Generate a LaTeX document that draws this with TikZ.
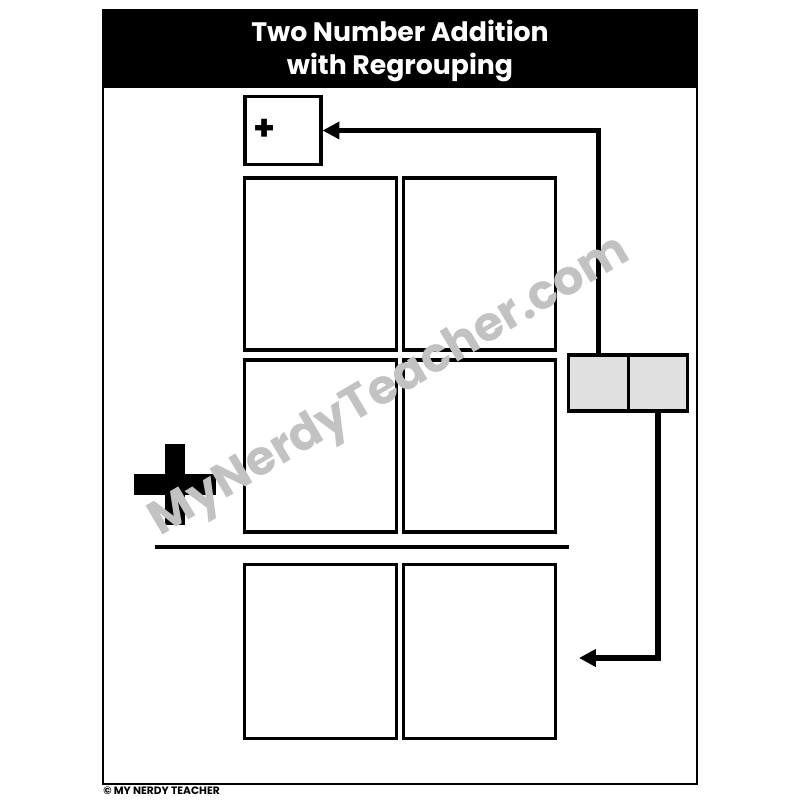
\documentclass[tikz,border=0pt]{standalone}
\usepackage{fontspec}
\setmainfont{Poppins}
\usetikzlibrary{arrows.meta}

\begin{document}
\begin{tikzpicture}[
  x=0.025cm, y=-0.025cm,
  cell/.style={draw, line width=2.2pt, inner sep=0pt,
    minimum width=3.78cm, minimum height=4.3cm},
  carrybox/.style={draw, line width=2.2pt, inner sep=0pt,
    minimum width=1.9cm, minimum height=1.72cm},
  regroup/.style={draw, line width=2.2pt, fill=black!12, inner sep=0pt,
    minimum width=1.49cm, minimum height=1.4cm},
  carry/.style={line width=4pt, -{Triangle[length=12pt,width=12pt]}},
  ]
  \useasboundingbox (0,0) rectangle (800,800);
  % Page frame and title band
  \fill[black] (103,10) rectangle (697,88);
  \draw[line width=1.6pt] (103,10) rectangle (697,784);
  \node[text=white, font={\fontsize{19pt}{24pt}\selectfont\bfseries},
    align=center] (title) at (400,51) {Two Number Addition\\with Regrouping};
  % Carry box
  \node[carrybox] (plusbox) at (283,130.5) {};
  \node[font={\fontsize{25pt}{25pt}\selectfont\bfseries}] (plussign)
    at (265,130) {+};
  % Place value cells
  \node[cell] (tensA) at (320.5,264) {};
  \node[cell] (onesA) at (479.5,264) {};
  \node[cell] (tensB) at (320.5,446) {};
  \node[cell] (onesB) at (479.5,446) {};
  \node[cell, minimum height=4.33cm] (tensC) at (320.5,651.5) {};
  \node[cell, minimum height=4.33cm] (onesC) at (479.5,651.5) {};
  % Big plus and sum line
  \fill[black] (165,444) rectangle (185,525);
  \fill[black] (134,474) rectangle (216,495);
  \draw[line width=2.2pt] (155,547) -- (569,547);
  % Regrouping boxes
  \node[regroup] (regtens) at (598.5,383) {};
  \node[regroup] (regones) at (658,383) {};
  % Arrows
  \coordinate (onesend) at (579,658);
  \draw[carry] (regtens.north) |- (plusbox.east);
  \draw[carry] (regones.south) |- (onesend);
  % Watermark
  \node[rotate=30.5, text=black!24, font={\fontsize{34pt}{34pt}\selectfont\bfseries}]
    (mark) at (391,388) {MyNerdyTeacher.com};
  % Footer
  \node[anchor=west, inner sep=0pt,
    font={\fontsize{7.6pt}{8pt}\selectfont\bfseries}] (footer)
    at (103,791) {© MY NERDY TEACHER};
\end{tikzpicture}
\end{document}
